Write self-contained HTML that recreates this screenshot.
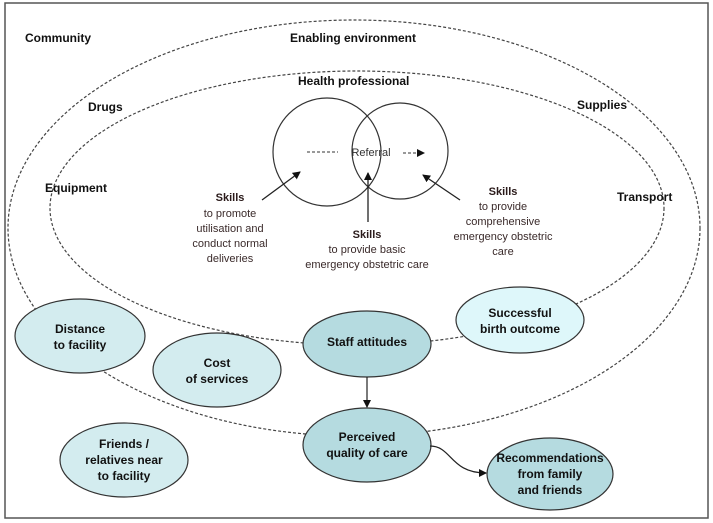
<!DOCTYPE html>
<html><head><meta charset="utf-8"><style>
html,body{margin:0;padding:0;background:#fff}
svg{display:block}
text{font-family:"Liberation Sans",Arial,sans-serif}
.b{font-weight:bold;font-size:12px;fill:#111}
.s{font-size:11px;fill:#3a2a2a}
.sb{font-size:11px;font-weight:bold;fill:#2a1a1a}
</style></head><body>
<svg width="713" height="523" viewBox="0 0 713 523" xmlns="http://www.w3.org/2000/svg">
<defs><marker id="ah" markerWidth="8" markerHeight="8" refX="7" refY="4" orient="auto" markerUnits="userSpaceOnUse"><path d="M0,0 L8,4 L0,8 z" fill="#111"/></marker></defs>
<rect x="5" y="3" width="703" height="515" fill="#fff" stroke="#555" stroke-width="1.5"/>
<ellipse cx="354" cy="228" rx="346" ry="208" fill="none" stroke="#444" stroke-width="1.2" stroke-dasharray="3,2"/>
<ellipse cx="357" cy="208" rx="307" ry="137" fill="none" stroke="#444" stroke-width="1.2" stroke-dasharray="3,2"/>
<circle cx="327" cy="152" r="54" fill="none" stroke="#333" stroke-width="1.2"/>
<circle cx="400" cy="151" r="48" fill="none" stroke="#333" stroke-width="1.2"/>
<line x1="307" y1="152" x2="338" y2="152" stroke="#333" stroke-dasharray="3,2"/>
<line x1="403" y1="153" x2="424" y2="153" stroke="#333" stroke-dasharray="3,2" marker-end="url(#ah)"/>
<text x="371" y="156" text-anchor="middle" class="s" style="fill:#333">Referral</text>
<line x1="262" y1="200" x2="300" y2="172" stroke="#222" stroke-width="1.3" marker-end="url(#ah)"/>
<line x1="368" y1="222" x2="368" y2="173" stroke="#222" stroke-width="1.3" marker-end="url(#ah)"/>
<line x1="460" y1="200" x2="423" y2="175" stroke="#222" stroke-width="1.3" marker-end="url(#ah)"/>
<text class="b" x="25" y="42">Community</text>
<text class="b" x="290" y="42">Enabling environment</text>
<text class="b" x="298" y="85">Health professional</text>
<text class="b" x="88" y="111">Drugs</text>
<text class="b" x="45" y="192">Equipment</text>
<text class="b" x="577" y="109">Supplies</text>
<text class="b" x="617" y="201">Transport</text>
<g text-anchor="middle">
<text class="sb" x="230" y="201">Skills</text>
<text class="s" x="230" y="217">to promote</text>
<text class="s" x="230" y="232">utilisation and</text>
<text class="s" x="230" y="247">conduct normal</text>
<text class="s" x="230" y="262">deliveries</text>
<text class="sb" x="367" y="238">Skills</text>
<text class="s" x="367" y="253">to provide basic</text>
<text class="s" x="367" y="268">emergency obstetric care</text>
<text class="sb" x="503" y="195">Skills</text>
<text class="s" x="503" y="210">to provide</text>
<text class="s" x="503" y="225">comprehensive</text>
<text class="s" x="503" y="240">emergency obstetric</text>
<text class="s" x="503" y="255">care</text>
</g>
<g stroke="#333" stroke-width="1.2">
<ellipse cx="80" cy="336" rx="65" ry="37" fill="#d3ecef"/>
<ellipse cx="217" cy="370" rx="64" ry="37" fill="#d3ecef"/>
<ellipse cx="124" cy="460" rx="64" ry="37" fill="#d3ecef"/>
<ellipse cx="520" cy="320" rx="64" ry="33" fill="#def7fa"/>
<ellipse cx="367" cy="344" rx="64" ry="33" fill="#b5dbe0"/>
<ellipse cx="367" cy="445" rx="64" ry="37" fill="#b5dbe0"/>
<ellipse cx="550" cy="474" rx="63" ry="36" fill="#b5dbe0"/>
</g>
<line x1="367" y1="377" x2="367" y2="407" stroke="#222" stroke-width="1.2" marker-end="url(#ah)"/>
<path d="M430,446 C452,446 450,473 486,473" fill="none" stroke="#222" stroke-width="1.2" marker-end="url(#ah)"/>
<g text-anchor="middle">
<text class="b" x="80" y="333">Distance</text><text class="b" x="80" y="349">to facility</text>
<text class="b" x="217" y="367">Cost</text><text class="b" x="217" y="383">of services</text>
<text class="b" x="124" y="448">Friends /</text><text class="b" x="124" y="464">relatives near</text><text class="b" x="124" y="480">to facility</text>
<text class="b" x="520" y="317">Successful</text><text class="b" x="520" y="333">birth outcome</text>
<text class="b" x="367" y="346">Staff attitudes</text>
<text class="b" x="367" y="441">Perceived</text><text class="b" x="367" y="457">quality of care</text>
<text class="b" x="550" y="462">Recommendations</text><text class="b" x="550" y="478">from family</text><text class="b" x="550" y="494">and friends</text>
</g>
</svg>
</body></html>
